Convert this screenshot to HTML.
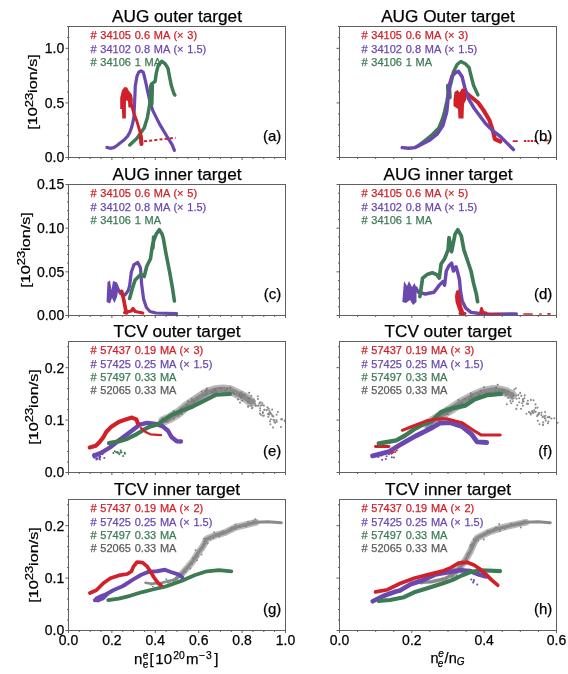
<!DOCTYPE html>
<html><head><meta charset="utf-8"><style>
html,body{margin:0;padding:0;background:#fff;}
svg{display:block;will-change:transform;}
text{font-family:"Liberation Sans",sans-serif;}
</style></head><body>
<svg width="568" height="674" viewBox="0 0 568 674">
<rect width="568" height="674" fill="#fff"/>
<polyline points="106.9,147.4 110.0,148.3 113.8,147.6 117.0,145.5 120.4,142.8 124.0,140.0 127.7,136.1 130.0,132.0 131.8,126.8 133.2,121.0 133.9,116.4 134.4,106.0 134.9,95.6 135.3,85.8 137.0,76.1 138.8,72.2 141.0,70.8 143.2,72.2 144.5,77.0 146.3,84.9 148.0,92.9 149.8,100.8 152.7,110.4 159.6,124.1 166.4,135.5 172.1,144.7 174.4,150.4" fill="none" stroke="#6a48b0" stroke-width="3.22" stroke-linecap="round" stroke-linejoin="round"/>
<polyline points="129.7,145.0 137.0,138.2 144.3,127.8 147.4,117.4 150.0,102.9 151.6,84.0 155.1,81.4 156.4,72.6 158.2,65.6 161.7,61.2 165.2,63.8 167.9,68.2 169.6,77.0 171.4,85.8 174.0,93.7 174.9,95.0" fill="none" stroke="#3d7a55" stroke-width="3.45" stroke-linecap="round" stroke-linejoin="round"/>
<polyline points="151.0,104.0 151.5,86.0" fill="none" stroke="#3d7a55" stroke-width="5.17" stroke-linecap="round" stroke-linejoin="round"/>
<polygon points="120.2,109.0 120.2,97.7 121.9,90.4 124.5,87.0 127.1,87.5 129.2,91.2 131.8,94.3 132.8,98.7 132.6,107.5 128.4,107.5 128.0,101.0 126.0,100.5 125.9,107.0 125.9,118.6 122.3,118.6 121.9,109.0" fill="#d0202a"/>
<polyline points="131.5,105.0 133.5,112.0 137.0,121.6 140.6,134.0 141.2,143.4" fill="none" stroke="#d0202a" stroke-width="2.88" stroke-linecap="round" stroke-linejoin="round"/>
<polyline points="140.8,136.0 141.5,144.0" fill="none" stroke="#d0202a" stroke-width="4.02" stroke-linecap="round" stroke-linejoin="round"/>
<polyline points="144,141.3 175.6,137.8" fill="none" stroke="#d0202a" stroke-width="2" stroke-dasharray="3 2.2"/>
<polyline points="417.8,146.1 423.7,141.6 431.2,135.7 438.6,128.3 442.3,119.4 444.5,111.9 446.8,101.5 449.0,89.7 451.2,82.3 453.4,71.9 457.1,64.5 460.9,61.5 465.3,63.7 469.0,67.4 471.2,76.3 473.5,85.2 477.9,94.9" fill="none" stroke="#3d7a55" stroke-width="3.45" stroke-linecap="round" stroke-linejoin="round"/>
<polyline points="449.2,97.0 448.5,86.0" fill="none" stroke="#3d7a55" stroke-width="5.17" stroke-linecap="round" stroke-linejoin="round"/>
<polyline points="463.1,91.0 468.7,95.0 478.0,102.5 483.6,110.4 489.2,119.7 492.9,130.9 494.8,139.0 500.4,141.5" fill="none" stroke="#d0202a" stroke-width="4.14" stroke-linecap="round" stroke-linejoin="round"/>
<polyline points="402.2,147.6 408.9,148.3 414.8,147.6 420.8,144.6 429.7,140.1 437.1,134.2 443.0,125.3 446.8,111.9 448.2,97.1 449.7,83.7 451.9,76.3 455.7,72.6 458.4,71.2 462.1,76.8 464.9,88.0 468.7,99.2 474.3,108.5 479.9,116.0 485.5,123.5 492.9,130.9 500.4,136.5 506.0,142.1 511.6,147.7 513.5,149.6" fill="none" stroke="#6a48b0" stroke-width="3.45" stroke-linecap="round" stroke-linejoin="round"/>
<polygon points="453.5,100.0 454.5,92.0 457.5,90.0 459.5,92.5 462.0,88.5 465.5,89.0 466.5,99.0 464.0,104.0 463.5,118.5 458.5,118.5 458.0,109.0 453.5,106.0" fill="#d0202a"/>
<polyline points="513.5,141.2 517.0,141.2" fill="none" stroke="#d0202a" stroke-width="1.84" stroke-linecap="round" stroke-linejoin="round"/>
<polyline points="524,141 536,141" fill="none" stroke="#d0202a" stroke-width="2" stroke-dasharray="2.2 1.2"/>
<polyline points="545.0,140.5 548.0,140.3" fill="none" stroke="#d0202a" stroke-width="1.84" stroke-linecap="round" stroke-linejoin="round"/>
<polygon points="106.5,302.0 107.5,282.0 110.0,280.5 111.5,290.0 113.0,281.0 116.0,282.0 118.5,289.0 117.0,297.0 114.5,303.0 112.0,298.0 110.0,303.5" fill="#6a48b0"/>
<polyline points="116.0,284.0 117.9,288.7 120.5,293.4 124.9,295.0 128.0,291.0 129.6,286.0 131.3,272.3 134.0,264.6 137.8,262.5 140.5,268.0 141.6,283.8 143.6,299.1 146.4,307.5 150.0,311.5 156.0,313.0 176.6,313.6" fill="none" stroke="#6a48b0" stroke-width="3.22" stroke-linecap="round" stroke-linejoin="round"/>
<polyline points="129.6,298.5 132.5,288.0 135.2,279.9 140.9,274.2 144.2,276.5 146.7,266.5 150.5,258.8 152.4,245.4 154.0,240.0 156.3,233.9 159.3,229.7 162.0,234.0 163.2,237.7 165.9,253.1 169.7,272.3 172.4,287.6 174.4,301.0" fill="none" stroke="#3d7a55" stroke-width="3.56" stroke-linecap="round" stroke-linejoin="round"/>
<polyline points="153.0,248.0 153.5,237.0" fill="none" stroke="#3d7a55" stroke-width="3.45" stroke-linecap="round" stroke-linejoin="round"/>
<polyline points="121.7,291.4 123.6,299.1 125.3,308.0 126.5,313.0" fill="none" stroke="#d0202a" stroke-width="3.68" stroke-linecap="round" stroke-linejoin="round"/>
<polyline points="124.5,312.5 131.3,311.0 133.0,308.5 135.2,311.5 142.8,313.0" fill="none" stroke="#d0202a" stroke-width="3.22" stroke-linecap="round" stroke-linejoin="round"/>
<polygon points="402.3,302.0 404.0,281.0 407.0,286.0 409.0,281.0 412.0,287.0 414.5,283.0 416.5,288.0 416.5,302.0 413.0,305.0 410.0,300.0 406.0,303.0" fill="#6a48b0"/>
<polyline points="416.0,288.0 418.2,292.2 425.2,294.0 434.0,292.2 439.3,285.1 442.8,281.6 444.6,285.1 446.3,271.0 449.0,265.8 451.6,263.1 453.4,271.0 456.0,266.7 457.8,272.8 459.5,279.9 460.4,290.4 462.2,301.0 465.7,308.0 471.0,312.4 478.0,313.3 490.0,314.2 516.3,314.0" fill="none" stroke="#6a48b0" stroke-width="3.45" stroke-linecap="round" stroke-linejoin="round"/>
<polyline points="419.9,296.6 422.6,278.1 427.0,274.6 432.3,272.8 436.7,274.6 439.3,278.1 441.1,264.0 444.6,258.7 448.1,249.9 449.0,237.6 451.6,251.7 455.1,234.1 457.8,229.7 461.3,235.8 463.9,249.9 467.5,260.5 471.0,271.0 473.6,283.4 476.3,293.9 477.6,301.7" fill="none" stroke="#3d7a55" stroke-width="3.68" stroke-linecap="round" stroke-linejoin="round"/>
<polygon points="455.0,296.0 456.0,291.0 459.0,289.5 460.5,297.0 462.0,306.0 464.5,313.0 460.0,314.5 457.5,308.0 455.5,302.0" fill="#d0202a"/>
<polyline points="460.0,313.5 465.0,313.5" fill="none" stroke="#d0202a" stroke-width="2.88" stroke-linecap="round" stroke-linejoin="round"/>
<polyline points="480.5,313.0 481.5,308.5 483.0,312.5 486.0,313.0" fill="none" stroke="#d0202a" stroke-width="2.88" stroke-linecap="round" stroke-linejoin="round"/>
<polyline points="488.0,314.0 500.0,313.8" fill="none" stroke="#d0202a" stroke-width="1.72" stroke-linecap="round" stroke-linejoin="round"/>
<polyline points="524.0,314.0 532.0,314.0" fill="none" stroke="#d0202a" stroke-width="1.72" stroke-linecap="round" stroke-linejoin="round"/>
<polyline points="540.0,314.0 541.0,314.0" fill="none" stroke="#d0202a" stroke-width="1.72" stroke-linecap="round" stroke-linejoin="round"/>
<polyline points="548.0,313.8 550.0,313.8" fill="none" stroke="#d0202a" stroke-width="1.72" stroke-linecap="round" stroke-linejoin="round"/>
<polyline points="163.0,421.0 170.0,418.0 178.2,413.0 186.6,406.0 195.0,400.4 200.0,397.0 207.6,392.5 215.2,390.2 222.7,389.4 230.3,390.2 237.9,393.9 245.5,397.7 251.0,402.0" fill="none" stroke="#b8b8b8" stroke-width="9.77" stroke-linecap="round" stroke-linejoin="round"/>
<polyline points="163.0,421.0 170.0,418.0 178.2,413.0 186.6,406.0 195.0,400.4 200.0,397.0 207.6,392.5 215.2,390.2 222.7,389.4 230.3,390.2 237.9,393.9 245.5,397.7 251.0,402.0" fill="none" stroke="#8a8a8a" stroke-width="5.29" stroke-linecap="round" stroke-linejoin="round"/>
<g fill="#7a7a7a"><circle cx="181.4" cy="408.2" r="1.0"/><circle cx="214.1" cy="389.8" r="1.0"/><circle cx="165.0" cy="419.2" r="1.0"/><circle cx="185.3" cy="408.9" r="1.0"/><circle cx="234.3" cy="393.9" r="1.0"/><circle cx="173.7" cy="411.1" r="1.0"/><circle cx="206.8" cy="389.9" r="1.0"/><circle cx="169.0" cy="415.8" r="1.0"/><circle cx="192.2" cy="405.7" r="1.0"/><circle cx="201.8" cy="391.4" r="1.0"/><circle cx="227.4" cy="388.8" r="1.0"/><circle cx="229.5" cy="393.5" r="1.0"/><circle cx="241.8" cy="396.0" r="1.0"/><circle cx="183.8" cy="409.6" r="1.0"/><circle cx="216.2" cy="392.3" r="1.0"/><circle cx="193.8" cy="402.3" r="1.0"/><circle cx="215.3" cy="389.2" r="1.0"/><circle cx="249.2" cy="392.8" r="1.0"/><circle cx="223.4" cy="392.9" r="1.0"/><circle cx="250.4" cy="398.4" r="1.0"/><circle cx="226.5" cy="393.4" r="1.0"/><circle cx="211.6" cy="392.0" r="1.0"/><circle cx="239.5" cy="394.2" r="1.0"/><circle cx="232.9" cy="392.5" r="1.0"/><circle cx="188.2" cy="401.3" r="1.0"/><circle cx="166.6" cy="418.9" r="1.0"/><circle cx="224.0" cy="393.4" r="1.0"/><circle cx="242.3" cy="400.6" r="1.0"/><circle cx="191.4" cy="405.7" r="1.0"/><circle cx="166.6" cy="421.7" r="1.0"/><circle cx="215.6" cy="390.7" r="1.0"/><circle cx="237.9" cy="399.5" r="1.0"/><circle cx="240.9" cy="397.7" r="1.0"/><circle cx="205.1" cy="390.9" r="1.0"/><circle cx="206.9" cy="388.4" r="1.0"/><circle cx="202.7" cy="395.0" r="1.0"/><circle cx="181.5" cy="414.0" r="1.0"/><circle cx="206.5" cy="392.9" r="1.0"/><circle cx="197.4" cy="398.3" r="1.0"/><circle cx="215.3" cy="389.6" r="1.0"/><circle cx="214.0" cy="390.6" r="1.0"/><circle cx="191.7" cy="398.9" r="1.0"/><circle cx="167.8" cy="421.2" r="1.0"/><circle cx="248.1" cy="401.9" r="1.0"/><circle cx="212.8" cy="392.4" r="1.0"/><circle cx="187.4" cy="406.2" r="1.0"/><circle cx="185.7" cy="407.3" r="1.0"/><circle cx="162.5" cy="418.6" r="1.0"/><circle cx="189.6" cy="407.9" r="1.0"/><circle cx="184.2" cy="410.7" r="1.0"/><circle cx="225.4" cy="390.6" r="1.0"/><circle cx="192.1" cy="401.2" r="1.0"/><circle cx="239.7" cy="395.9" r="1.0"/><circle cx="220.9" cy="388.3" r="1.0"/><circle cx="184.1" cy="411.3" r="1.0"/><circle cx="181.0" cy="408.2" r="1.0"/><circle cx="178.5" cy="415.8" r="1.0"/><circle cx="219.1" cy="388.1" r="1.0"/><circle cx="173.7" cy="418.6" r="1.0"/><circle cx="184.7" cy="408.3" r="1.0"/><circle cx="194.4" cy="400.7" r="1.0"/><circle cx="181.6" cy="414.0" r="1.0"/><circle cx="243.1" cy="395.3" r="1.0"/><circle cx="248.3" cy="398.3" r="1.0"/><circle cx="230.3" cy="387.5" r="1.0"/><circle cx="206.2" cy="394.8" r="1.0"/><circle cx="184.9" cy="410.5" r="1.0"/><circle cx="187.3" cy="405.1" r="1.0"/><circle cx="241.5" cy="392.2" r="1.0"/><circle cx="244.6" cy="394.6" r="1.0"/></g>
<g fill="#8c8c8c"><circle cx="267.5" cy="407.4" r="1.05"/><circle cx="277.9" cy="412.1" r="1.05"/><circle cx="240.0" cy="402.6" r="1.05"/><circle cx="270.2" cy="413.6" r="1.05"/><circle cx="262.8" cy="415.8" r="1.05"/><circle cx="268.8" cy="413.4" r="1.05"/><circle cx="262.3" cy="403.4" r="1.05"/><circle cx="253.6" cy="401.8" r="1.05"/><circle cx="267.8" cy="414.2" r="1.05"/><circle cx="276.8" cy="421.7" r="1.05"/><circle cx="281.9" cy="419.4" r="1.05"/><circle cx="273.5" cy="419.7" r="1.05"/><circle cx="259.8" cy="402.8" r="1.05"/><circle cx="281.7" cy="419.3" r="1.05"/><circle cx="260.2" cy="410.5" r="1.05"/><circle cx="248.4" cy="406.4" r="1.05"/><circle cx="246.6" cy="397.0" r="1.05"/><circle cx="259.4" cy="403.5" r="1.05"/><circle cx="251.9" cy="408.3" r="1.05"/><circle cx="250.6" cy="401.2" r="1.05"/><circle cx="272.5" cy="416.1" r="1.05"/><circle cx="270.0" cy="421.2" r="1.05"/><circle cx="250.6" cy="400.9" r="1.05"/><circle cx="281.0" cy="427.0" r="1.05"/><circle cx="281.3" cy="419.2" r="1.05"/><circle cx="252.5" cy="407.5" r="1.05"/><circle cx="251.3" cy="395.8" r="1.05"/><circle cx="284.7" cy="421.0" r="1.05"/><circle cx="248.0" cy="406.6" r="1.05"/><circle cx="273.0" cy="427.5" r="1.05"/><circle cx="263.9" cy="415.6" r="1.05"/><circle cx="255.4" cy="405.2" r="1.05"/><circle cx="272.3" cy="415.4" r="1.05"/><circle cx="254.2" cy="400.8" r="1.05"/><circle cx="260.9" cy="414.8" r="1.05"/><circle cx="270.8" cy="419.3" r="1.05"/><circle cx="250.6" cy="400.8" r="1.05"/><circle cx="264.5" cy="409.8" r="1.05"/><circle cx="276.6" cy="414.7" r="1.05"/><circle cx="276.5" cy="420.0" r="1.05"/><circle cx="254.4" cy="400.9" r="1.05"/><circle cx="269.5" cy="410.7" r="1.05"/><circle cx="275.3" cy="422.7" r="1.05"/><circle cx="268.3" cy="416.7" r="1.05"/><circle cx="262.7" cy="412.6" r="1.05"/><circle cx="285.1" cy="420.4" r="1.05"/><circle cx="262.8" cy="413.0" r="1.05"/><circle cx="258.0" cy="399.0" r="1.05"/><circle cx="260.6" cy="402.3" r="1.05"/><circle cx="266.9" cy="410.1" r="1.05"/><circle cx="258.4" cy="405.8" r="1.05"/><circle cx="263.9" cy="405.6" r="1.05"/><circle cx="262.3" cy="405.2" r="1.05"/><circle cx="271.2" cy="413.7" r="1.05"/><circle cx="253.8" cy="402.3" r="1.05"/><circle cx="270.2" cy="412.6" r="1.05"/><circle cx="254.9" cy="403.5" r="1.05"/><circle cx="270.4" cy="424.2" r="1.05"/><circle cx="272.2" cy="409.5" r="1.05"/><circle cx="274.3" cy="420.5" r="1.05"/><circle cx="257.8" cy="396.3" r="1.05"/><circle cx="260.7" cy="405.6" r="1.05"/><circle cx="274.5" cy="422.1" r="1.05"/><circle cx="264.4" cy="409.9" r="1.05"/><circle cx="268.7" cy="408.8" r="1.05"/><circle cx="273.3" cy="416.5" r="1.05"/><circle cx="260.1" cy="408.3" r="1.05"/><circle cx="269.2" cy="414.6" r="1.05"/><circle cx="262.9" cy="412.3" r="1.05"/><circle cx="251.2" cy="405.4" r="1.05"/><circle cx="258.2" cy="405.5" r="1.05"/><circle cx="255.9" cy="405.9" r="1.05"/><circle cx="255.5" cy="405.6" r="1.05"/><circle cx="259.8" cy="413.6" r="1.05"/><circle cx="253.4" cy="399.5" r="1.05"/></g>
<polyline points="94.1,455.5 101.1,452.8 109.9,447.5 118.7,440.5 125.8,435.2 132.8,429.9 139.9,424.6 146.9,422.9 155.7,423.8 162.7,426.4 168.0,430.8 171.5,437.0 176.8,441.3 181.0,441.5" fill="none" stroke="#6a48b0" stroke-width="4.37" stroke-linecap="round" stroke-linejoin="round"/>
<g fill="#6a48b0"><circle cx="99.9" cy="459.4" r="1"/><circle cx="93.9" cy="457.4" r="1"/><circle cx="95.0" cy="457.8" r="1"/><circle cx="100.1" cy="457.1" r="1"/><circle cx="99.7" cy="455.8" r="1"/><circle cx="93.8" cy="453.8" r="1"/><circle cx="96.4" cy="459.6" r="1"/><circle cx="96.5" cy="456.6" r="1"/><circle cx="97.7" cy="458.7" r="1"/><circle cx="104.3" cy="457.9" r="1"/><circle cx="99.6" cy="457.9" r="1"/><circle cx="96.9" cy="458.3" r="1"/><circle cx="100.2" cy="456.7" r="1"/><circle cx="99.2" cy="456.7" r="1"/><circle cx="102.5" cy="454.2" r="1"/></g>
<polyline points="109.0,443.1 118.7,441.4 127.5,438.7 136.3,434.3 143.4,429.9 150.4,426.4 157.5,424.6 164.5,419.4 171.5,415.0 180.0,411.4 192.3,406.7 206.3,399.6 216.2,394.7 230.0,394.0" fill="none" stroke="#3d7a55" stroke-width="4.14" stroke-linecap="round" stroke-linejoin="round"/>
<g fill="#3d7a55"><circle cx="117.4" cy="452.1" r="1"/><circle cx="124.7" cy="452.7" r="1"/><circle cx="124.9" cy="453.8" r="1"/><circle cx="121.5" cy="452.3" r="1"/><circle cx="118.0" cy="453.0" r="1"/><circle cx="114.8" cy="451.3" r="1"/><circle cx="120.7" cy="450.4" r="1"/><circle cx="119.3" cy="454.3" r="1"/><circle cx="113.4" cy="452.9" r="1"/><circle cx="120.3" cy="452.5" r="1"/><circle cx="116.3" cy="452.2" r="1"/><circle cx="123.1" cy="456.0" r="1"/></g>
<polyline points="89.7,447.5 95.8,445.8 99.4,442.3 102.9,437.9 106.4,431.7 111.7,426.4 118.7,422.0 125.8,419.4 131.9,417.6 136.3,419.4 138.1,423.8" fill="none" stroke="#d0202a" stroke-width="4.14" stroke-linecap="round" stroke-linejoin="round"/>
<polyline points="141.0,428.0 145.1,431.7 150.4,434.3 161.0,435.2" fill="none" stroke="#d0202a" stroke-width="2.3" stroke-linecap="round" stroke-linejoin="round"/>
<polyline points="427.0,424.0 430.0,422.7 441.0,415.5 452.2,408.3 463.0,401.5 474.4,395.5 483.0,392.0 492.1,390.0 500.0,390.5 505.4,391.7 512.0,395.0" fill="none" stroke="#b8b8b8" stroke-width="9.77" stroke-linecap="round" stroke-linejoin="round"/>
<polyline points="427.0,424.0 430.0,422.7 441.0,415.5 452.2,408.3 463.0,401.5 474.4,395.5 483.0,392.0 492.1,390.0 500.0,390.5 505.4,391.7 512.0,395.0" fill="none" stroke="#8a8a8a" stroke-width="5.29" stroke-linecap="round" stroke-linejoin="round"/>
<g fill="#7a7a7a"><circle cx="446.6" cy="408.3" r="1.0"/><circle cx="499.2" cy="391.7" r="1.0"/><circle cx="439.4" cy="420.1" r="1.0"/><circle cx="436.2" cy="417.5" r="1.0"/><circle cx="447.2" cy="410.9" r="1.0"/><circle cx="478.1" cy="394.8" r="1.0"/><circle cx="441.4" cy="414.2" r="1.0"/><circle cx="496.1" cy="387.2" r="1.0"/><circle cx="508.1" cy="391.4" r="1.0"/><circle cx="495.3" cy="390.7" r="1.0"/><circle cx="471.0" cy="397.2" r="1.0"/><circle cx="461.1" cy="403.3" r="1.0"/><circle cx="497.6" cy="384.7" r="1.0"/><circle cx="480.7" cy="390.7" r="1.0"/><circle cx="437.0" cy="415.5" r="1.0"/><circle cx="442.0" cy="417.6" r="1.0"/><circle cx="444.8" cy="412.1" r="1.0"/><circle cx="460.4" cy="405.9" r="1.0"/><circle cx="446.1" cy="413.6" r="1.0"/><circle cx="459.0" cy="406.9" r="1.0"/><circle cx="505.6" cy="395.1" r="1.0"/><circle cx="507.4" cy="392.5" r="1.0"/><circle cx="496.0" cy="387.7" r="1.0"/><circle cx="436.5" cy="418.3" r="1.0"/><circle cx="502.5" cy="389.7" r="1.0"/><circle cx="496.8" cy="392.7" r="1.0"/><circle cx="440.8" cy="416.9" r="1.0"/><circle cx="487.4" cy="393.9" r="1.0"/><circle cx="472.5" cy="394.6" r="1.0"/><circle cx="486.3" cy="392.5" r="1.0"/><circle cx="439.9" cy="415.1" r="1.0"/><circle cx="447.8" cy="414.0" r="1.0"/><circle cx="471.5" cy="396.6" r="1.0"/><circle cx="461.8" cy="402.7" r="1.0"/><circle cx="428.3" cy="423.9" r="1.0"/><circle cx="450.9" cy="411.6" r="1.0"/><circle cx="431.5" cy="420.8" r="1.0"/><circle cx="499.0" cy="390.4" r="1.0"/><circle cx="469.4" cy="398.9" r="1.0"/><circle cx="464.4" cy="398.9" r="1.0"/><circle cx="425.4" cy="422.8" r="1.0"/><circle cx="488.1" cy="393.9" r="1.0"/><circle cx="498.5" cy="393.1" r="1.0"/><circle cx="455.6" cy="407.8" r="1.0"/><circle cx="443.1" cy="414.4" r="1.0"/><circle cx="461.8" cy="405.8" r="1.0"/><circle cx="479.2" cy="395.0" r="1.0"/><circle cx="439.9" cy="414.9" r="1.0"/><circle cx="453.2" cy="409.4" r="1.0"/><circle cx="438.8" cy="416.6" r="1.0"/><circle cx="496.5" cy="391.9" r="1.0"/><circle cx="459.2" cy="404.7" r="1.0"/><circle cx="452.2" cy="407.4" r="1.0"/><circle cx="513.5" cy="395.2" r="1.0"/><circle cx="438.1" cy="416.1" r="1.0"/><circle cx="501.7" cy="390.8" r="1.0"/><circle cx="427.5" cy="427.8" r="1.0"/><circle cx="437.2" cy="417.0" r="1.0"/><circle cx="455.2" cy="405.4" r="1.0"/><circle cx="484.0" cy="387.2" r="1.0"/><circle cx="470.9" cy="397.3" r="1.0"/><circle cx="470.7" cy="393.3" r="1.0"/><circle cx="503.9" cy="391.9" r="1.0"/><circle cx="471.1" cy="395.4" r="1.0"/><circle cx="452.7" cy="408.6" r="1.0"/><circle cx="434.6" cy="420.1" r="1.0"/><circle cx="489.6" cy="393.1" r="1.0"/><circle cx="503.9" cy="390.5" r="1.0"/><circle cx="458.4" cy="400.1" r="1.0"/><circle cx="485.3" cy="394.6" r="1.0"/></g>
<g fill="#8c8c8c"><circle cx="519.3" cy="402.2" r="1.05"/><circle cx="522.9" cy="405.7" r="1.05"/><circle cx="510.7" cy="397.3" r="1.05"/><circle cx="544.6" cy="418.0" r="1.05"/><circle cx="514.3" cy="389.6" r="1.05"/><circle cx="520.2" cy="392.9" r="1.05"/><circle cx="534.3" cy="410.2" r="1.05"/><circle cx="507.3" cy="393.1" r="1.05"/><circle cx="516.6" cy="398.8" r="1.05"/><circle cx="521.0" cy="408.7" r="1.05"/><circle cx="527.5" cy="404.0" r="1.05"/><circle cx="533.3" cy="412.9" r="1.05"/><circle cx="557.6" cy="422.7" r="1.05"/><circle cx="537.1" cy="416.1" r="1.05"/><circle cx="527.0" cy="403.5" r="1.05"/><circle cx="527.8" cy="400.7" r="1.05"/><circle cx="548.4" cy="421.5" r="1.05"/><circle cx="521.3" cy="395.9" r="1.05"/><circle cx="548.0" cy="423.3" r="1.05"/><circle cx="535.6" cy="407.9" r="1.05"/><circle cx="506.8" cy="404.2" r="1.05"/><circle cx="542.6" cy="417.1" r="1.05"/><circle cx="519.2" cy="398.2" r="1.05"/><circle cx="512.0" cy="395.9" r="1.05"/><circle cx="516.4" cy="395.7" r="1.05"/><circle cx="538.7" cy="414.3" r="1.05"/><circle cx="516.3" cy="408.9" r="1.05"/><circle cx="539.5" cy="424.3" r="1.05"/><circle cx="511.3" cy="403.2" r="1.05"/><circle cx="545.3" cy="418.5" r="1.05"/><circle cx="517.3" cy="405.3" r="1.05"/><circle cx="522.1" cy="403.3" r="1.05"/><circle cx="509.5" cy="393.8" r="1.05"/><circle cx="530.8" cy="413.3" r="1.05"/><circle cx="543.2" cy="422.2" r="1.05"/><circle cx="545.7" cy="420.6" r="1.05"/><circle cx="547.7" cy="417.2" r="1.05"/><circle cx="515.9" cy="388.3" r="1.05"/><circle cx="524.7" cy="395.4" r="1.05"/><circle cx="532.3" cy="411.1" r="1.05"/><circle cx="512.6" cy="393.3" r="1.05"/><circle cx="537.8" cy="420.8" r="1.05"/><circle cx="533.0" cy="412.4" r="1.05"/><circle cx="541.4" cy="415.1" r="1.05"/><circle cx="535.5" cy="404.4" r="1.05"/><circle cx="522.9" cy="399.0" r="1.05"/><circle cx="508.2" cy="397.7" r="1.05"/><circle cx="512.4" cy="398.0" r="1.05"/><circle cx="535.2" cy="412.0" r="1.05"/><circle cx="551.5" cy="418.6" r="1.05"/><circle cx="535.7" cy="411.8" r="1.05"/><circle cx="518.3" cy="394.9" r="1.05"/><circle cx="538.8" cy="413.1" r="1.05"/><circle cx="528.9" cy="412.0" r="1.05"/><circle cx="523.7" cy="401.5" r="1.05"/><circle cx="530.9" cy="399.9" r="1.05"/><circle cx="537.5" cy="407.6" r="1.05"/><circle cx="543.0" cy="425.0" r="1.05"/><circle cx="549.0" cy="416.7" r="1.05"/><circle cx="545.1" cy="412.1" r="1.05"/><circle cx="530.9" cy="414.5" r="1.05"/><circle cx="539.2" cy="413.2" r="1.05"/><circle cx="554.4" cy="418.3" r="1.05"/><circle cx="524.5" cy="398.3" r="1.05"/><circle cx="528.1" cy="403.7" r="1.05"/><circle cx="545.4" cy="415.8" r="1.05"/><circle cx="529.7" cy="412.6" r="1.05"/><circle cx="522.8" cy="401.0" r="1.05"/><circle cx="522.9" cy="399.8" r="1.05"/><circle cx="537.8" cy="414.9" r="1.05"/><circle cx="544.0" cy="416.2" r="1.05"/><circle cx="543.0" cy="424.6" r="1.05"/><circle cx="510.4" cy="401.1" r="1.05"/><circle cx="549.5" cy="417.4" r="1.05"/><circle cx="532.2" cy="411.6" r="1.05"/><circle cx="533.6" cy="400.3" r="1.05"/><circle cx="541.5" cy="412.6" r="1.05"/><circle cx="512.6" cy="398.3" r="1.05"/><circle cx="512.9" cy="401.3" r="1.05"/><circle cx="526.4" cy="413.8" r="1.05"/></g>
<polyline points="372.6,455.8 380.5,453.8 389.3,451.5 398.1,446.0 406.9,440.8 415.7,436.0 424.5,431.7 433.3,427.0 440.0,423.2 450.3,422.6 461.8,426.4 471.4,434.0 477.1,441.8 486.7,442.5" fill="none" stroke="#6a48b0" stroke-width="4.83" stroke-linecap="round" stroke-linejoin="round"/>
<g fill="#6a48b0"><circle cx="385.5" cy="452.1" r="1"/><circle cx="380.2" cy="454.3" r="1"/><circle cx="386.6" cy="456.3" r="1"/><circle cx="381.5" cy="455.5" r="1"/><circle cx="382.1" cy="459.7" r="1"/><circle cx="385.8" cy="458.9" r="1"/><circle cx="377.5" cy="454.4" r="1"/><circle cx="376.9" cy="455.3" r="1"/><circle cx="391.8" cy="457.3" r="1"/><circle cx="389.0" cy="454.2" r="1"/><circle cx="378.3" cy="457.0" r="1"/><circle cx="394.0" cy="457.6" r="1"/></g>
<polyline points="375.5,446.4 388.9,446.4" fill="none" stroke="#d0202a" stroke-width="2.99" stroke-linecap="round" stroke-linejoin="round"/>
<g fill="#d0202a"><circle cx="397.9" cy="447.2" r="1"/><circle cx="391.3" cy="453.7" r="1"/><circle cx="395.2" cy="452.0" r="1"/><circle cx="393.4" cy="452.2" r="1"/><circle cx="392.2" cy="453.0" r="1"/><circle cx="396.8" cy="450.4" r="1"/></g>
<polyline points="378.7,443.5 387.5,442.0 396.3,440.3 405.1,435.5 413.9,429.4 422.7,424.5 431.5,421.3 441.1,412.0 452.2,408.3 465.5,405.5 474.4,399.4 487.7,395.0 501.0,393.9" fill="none" stroke="#3d7a55" stroke-width="4.37" stroke-linecap="round" stroke-linejoin="round"/>
<polyline points="402.3,430.3 412.0,426.5 427.3,420.7 437.0,419.0 446.4,418.7 461.8,422.6 473.3,430.3 481.0,434.9 500.2,434.9" fill="none" stroke="#d0202a" stroke-width="2.99" stroke-linecap="round" stroke-linejoin="round"/>
<polyline points="182.3,573.3 188.0,567.0 193.0,561.0 198.0,553.0 202.7,546.8 206.8,539.0 214.9,535.5 225.1,532.5 235.3,527.4 243.5,525.3 255.8,522.3" fill="none" stroke="#bababa" stroke-width="6.9" stroke-linecap="round" stroke-linejoin="round"/>
<polyline points="145.5,582.7 151.7,583.8 162.3,582.7 167.5,581.2 174.9,579.6" fill="none" stroke="#8a8a8a" stroke-width="2.53" stroke-linecap="round" stroke-linejoin="round"/>
<polyline points="174.9,579.6 182.3,573.3 188.0,567.0 193.0,561.0 198.0,553.0 202.7,546.8 206.8,539.0 214.9,535.5 225.1,532.5 235.3,527.4 243.5,525.3 255.8,522.3" fill="none" stroke="#8a8a8a" stroke-width="3.45" stroke-linecap="round" stroke-linejoin="round"/>
<g fill="#858585"><circle cx="166.4" cy="579.2" r="0.9"/><circle cx="198.0" cy="556.8" r="0.9"/><circle cx="229.3" cy="529.3" r="0.9"/><circle cx="177.7" cy="578.5" r="0.9"/><circle cx="207.7" cy="543.4" r="0.9"/><circle cx="175.8" cy="579.3" r="0.9"/><circle cx="255.3" cy="519.1" r="0.9"/><circle cx="208.7" cy="539.1" r="0.9"/><circle cx="201.7" cy="554.6" r="0.9"/><circle cx="190.4" cy="568.5" r="0.9"/><circle cx="163.7" cy="582.0" r="0.9"/><circle cx="202.0" cy="547.6" r="0.9"/><circle cx="173.2" cy="581.4" r="0.9"/><circle cx="176.3" cy="577.5" r="0.9"/><circle cx="253.8" cy="521.6" r="0.9"/><circle cx="223.5" cy="530.9" r="0.9"/><circle cx="158.8" cy="583.2" r="0.9"/><circle cx="174.9" cy="578.7" r="0.9"/><circle cx="191.1" cy="563.1" r="0.9"/><circle cx="191.8" cy="564.2" r="0.9"/><circle cx="151.2" cy="584.7" r="0.9"/><circle cx="253.0" cy="522.6" r="0.9"/><circle cx="203.0" cy="545.2" r="0.9"/><circle cx="204.5" cy="538.6" r="0.9"/><circle cx="170.0" cy="582.1" r="0.9"/><circle cx="245.1" cy="526.4" r="0.9"/><circle cx="183.7" cy="572.6" r="0.9"/><circle cx="232.1" cy="527.6" r="0.9"/><circle cx="214.1" cy="532.2" r="0.9"/><circle cx="246.4" cy="526.3" r="0.9"/><circle cx="248.0" cy="521.7" r="0.9"/><circle cx="197.4" cy="553.6" r="0.9"/><circle cx="240.0" cy="526.8" r="0.9"/><circle cx="231.1" cy="527.8" r="0.9"/><circle cx="235.8" cy="528.1" r="0.9"/><circle cx="180.8" cy="574.3" r="0.9"/><circle cx="152.9" cy="586.4" r="0.9"/><circle cx="253.6" cy="521.0" r="0.9"/><circle cx="179.7" cy="576.6" r="0.9"/><circle cx="222.5" cy="533.8" r="0.9"/><circle cx="235.7" cy="524.5" r="0.9"/><circle cx="204.3" cy="541.2" r="0.9"/><circle cx="235.5" cy="529.0" r="0.9"/><circle cx="180.3" cy="574.8" r="0.9"/><circle cx="216.2" cy="535.1" r="0.9"/><circle cx="203.7" cy="538.7" r="0.9"/><circle cx="205.0" cy="543.9" r="0.9"/><circle cx="251.1" cy="523.1" r="0.9"/><circle cx="158.4" cy="583.3" r="0.9"/><circle cx="197.1" cy="560.2" r="0.9"/><circle cx="213.5" cy="538.1" r="0.9"/><circle cx="183.7" cy="570.5" r="0.9"/><circle cx="168.0" cy="582.7" r="0.9"/><circle cx="218.6" cy="534.1" r="0.9"/><circle cx="221.1" cy="532.3" r="0.9"/><circle cx="230.9" cy="530.6" r="0.9"/><circle cx="154.0" cy="582.6" r="0.9"/><circle cx="219.2" cy="536.7" r="0.9"/><circle cx="185.4" cy="572.0" r="0.9"/><circle cx="184.6" cy="571.2" r="0.9"/><circle cx="195.5" cy="550.2" r="0.9"/><circle cx="157.0" cy="582.0" r="0.9"/><circle cx="223.5" cy="533.1" r="0.9"/><circle cx="215.7" cy="534.4" r="0.9"/><circle cx="155.7" cy="579.5" r="0.9"/><circle cx="185.5" cy="572.0" r="0.9"/><circle cx="160.3" cy="583.2" r="0.9"/><circle cx="232.1" cy="527.3" r="0.9"/><circle cx="210.2" cy="538.8" r="0.9"/><circle cx="193.2" cy="558.0" r="0.9"/></g>
<polyline points="255.8,522.3 268.0,521.8 281.3,522.7" fill="none" stroke="#8a8a8a" stroke-width="2.99" stroke-linecap="round" stroke-linejoin="round"/>
<polyline points="94.8,600.2 103.2,596.0 113.2,590.2 123.0,586.0 132.9,579.6 141.3,574.7 148.4,571.9 156.8,571.2 165.0,569.8 170.9,572.0 178.2,574.3 182.3,577.4" fill="none" stroke="#6a48b0" stroke-width="3.91" stroke-linecap="round" stroke-linejoin="round"/>
<polygon points="93.5,601.5 95.0,597.0 101.0,594.0 107.5,592.0 109.0,595.0 104.0,600.0 98.0,602.5" fill="#6a48b0"/>
<polyline points="108.2,600.1 118.8,598.7 130.1,595.8 141.3,592.3 152.6,589.5 165.0,586.7 183.5,580.1 194.5,575.3 206.8,571.3 219.0,570.2 231.3,571.3" fill="none" stroke="#3d7a55" stroke-width="3.79" stroke-linecap="round" stroke-linejoin="round"/>
<polyline points="89.9,593.0 96.3,590.2 103.3,583.2 110.4,578.2 118.8,575.4 127.3,574.0 131.5,571.2 133.6,566.3 137.1,562.0 142.7,562.7 147.0,566.3 149.8,570.5 154.0,577.5 158.2,583.2 161.0,585.3" fill="none" stroke="#d0202a" stroke-width="3.68" stroke-linecap="round" stroke-linejoin="round"/>
<polyline points="452.8,574.6 459.9,567.6 465.1,560.6 470.0,552.0 474.0,543.0 477.0,538.0 480.8,536.1 489.3,531.9 499.2,528.4 510.4,525.6 520.0,523.5 525.8,522.3" fill="none" stroke="#bababa" stroke-width="6.9" stroke-linecap="round" stroke-linejoin="round"/>
<polyline points="415.8,582.6 431.7,581.7 444.0,579.0 452.8,574.6 459.9,567.6 465.1,560.6 470.0,552.0 474.0,543.0 477.0,538.0 480.8,536.1 489.3,531.9 499.2,528.4 510.4,525.6 520.0,523.5 525.8,522.3" fill="none" stroke="#8a8a8a" stroke-width="3.45" stroke-linecap="round" stroke-linejoin="round"/>
<g fill="#858585"><circle cx="519.1" cy="523.3" r="0.9"/><circle cx="425.6" cy="581.0" r="0.9"/><circle cx="472.4" cy="549.0" r="0.9"/><circle cx="466.7" cy="560.1" r="0.9"/><circle cx="421.3" cy="583.7" r="0.9"/><circle cx="462.2" cy="560.8" r="0.9"/><circle cx="462.4" cy="568.7" r="0.9"/><circle cx="473.9" cy="539.2" r="0.9"/><circle cx="520.2" cy="525.1" r="0.9"/><circle cx="458.5" cy="565.7" r="0.9"/><circle cx="457.1" cy="572.8" r="0.9"/><circle cx="487.8" cy="531.0" r="0.9"/><circle cx="480.6" cy="537.3" r="0.9"/><circle cx="456.8" cy="570.1" r="0.9"/><circle cx="431.5" cy="582.0" r="0.9"/><circle cx="448.9" cy="573.9" r="0.9"/><circle cx="456.2" cy="571.3" r="0.9"/><circle cx="454.9" cy="570.8" r="0.9"/><circle cx="451.7" cy="578.0" r="0.9"/><circle cx="488.5" cy="531.5" r="0.9"/><circle cx="474.4" cy="545.3" r="0.9"/><circle cx="520.8" cy="527.6" r="0.9"/><circle cx="423.0" cy="582.4" r="0.9"/><circle cx="499.2" cy="524.0" r="0.9"/><circle cx="502.2" cy="527.5" r="0.9"/><circle cx="524.2" cy="521.1" r="0.9"/><circle cx="521.7" cy="523.7" r="0.9"/><circle cx="424.9" cy="582.2" r="0.9"/><circle cx="518.1" cy="523.8" r="0.9"/><circle cx="428.7" cy="581.6" r="0.9"/><circle cx="472.9" cy="545.4" r="0.9"/><circle cx="466.2" cy="560.0" r="0.9"/><circle cx="460.5" cy="567.4" r="0.9"/><circle cx="511.4" cy="523.7" r="0.9"/><circle cx="487.4" cy="531.4" r="0.9"/><circle cx="446.6" cy="579.0" r="0.9"/><circle cx="494.2" cy="528.8" r="0.9"/><circle cx="504.9" cy="528.8" r="0.9"/><circle cx="454.4" cy="569.1" r="0.9"/><circle cx="448.9" cy="576.7" r="0.9"/><circle cx="472.3" cy="544.0" r="0.9"/><circle cx="471.6" cy="544.7" r="0.9"/><circle cx="490.9" cy="531.9" r="0.9"/><circle cx="499.8" cy="531.4" r="0.9"/><circle cx="442.4" cy="578.4" r="0.9"/><circle cx="466.1" cy="558.1" r="0.9"/><circle cx="484.6" cy="533.3" r="0.9"/><circle cx="470.3" cy="546.4" r="0.9"/><circle cx="454.5" cy="573.1" r="0.9"/><circle cx="510.9" cy="524.4" r="0.9"/><circle cx="495.7" cy="527.3" r="0.9"/><circle cx="452.7" cy="575.4" r="0.9"/><circle cx="455.8" cy="572.7" r="0.9"/><circle cx="459.5" cy="566.1" r="0.9"/><circle cx="467.4" cy="554.1" r="0.9"/><circle cx="452.8" cy="575.7" r="0.9"/><circle cx="451.3" cy="574.4" r="0.9"/><circle cx="429.8" cy="582.0" r="0.9"/><circle cx="470.7" cy="544.9" r="0.9"/><circle cx="450.3" cy="575.2" r="0.9"/><circle cx="523.2" cy="522.4" r="0.9"/><circle cx="500.3" cy="529.6" r="0.9"/><circle cx="435.7" cy="580.3" r="0.9"/><circle cx="489.9" cy="532.5" r="0.9"/><circle cx="456.6" cy="575.6" r="0.9"/><circle cx="483.8" cy="539.5" r="0.9"/><circle cx="514.4" cy="525.0" r="0.9"/><circle cx="478.3" cy="540.6" r="0.9"/><circle cx="467.5" cy="553.5" r="0.9"/><circle cx="496.9" cy="527.6" r="0.9"/></g>
<polyline points="525.8,522.3 538.0,521.8 550.3,522.7" fill="none" stroke="#8a8a8a" stroke-width="2.99" stroke-linecap="round" stroke-linejoin="round"/>
<polyline points="372.7,601.3 383.2,596.0 395.9,591.5 400.0,590.5 410.6,584.3 421.1,580.8 435.2,574.6 449.3,572.0 459.9,570.2 470.4,571.1 479.2,574.6 486.3,576.4" fill="none" stroke="#6a48b0" stroke-width="4.6" stroke-linecap="round" stroke-linejoin="round"/>
<g fill="#6a48b0"><circle cx="473.1" cy="582.6" r="1"/><circle cx="471.2" cy="579.4" r="1"/><circle cx="473.9" cy="580.0" r="1"/><circle cx="473.7" cy="581.3" r="1"/><circle cx="477.2" cy="584.4" r="1"/></g>
<polyline points="378.7,600.9 390.0,600.0 404.0,597.2 414.1,592.3 428.2,587.9 442.3,583.5 452.8,579.9 461.6,575.5 470.4,572.0 481.0,570.2 500.0,571.1" fill="none" stroke="#3d7a55" stroke-width="4.14" stroke-linecap="round" stroke-linejoin="round"/>
<polyline points="375.6,591.9 387.5,589.7 400.0,583.5 414.1,578.2 428.2,574.6 442.3,571.1 451.1,567.6 458.1,563.2 466.9,562.3 473.9,565.0 479.2,568.5 486.3,574.6 491.5,579.9 497.7,585.2" fill="none" stroke="#d0202a" stroke-width="3.68" stroke-linecap="round" stroke-linejoin="round"/>
<rect x="68.5" y="26.5" width="217.0" height="131.0" fill="none" stroke="#606060" stroke-width="1"/>
<line x1="65.5" y1="157.50" x2="68.5" y2="157.50" stroke="#606060" stroke-width="1"/>
<line x1="67.0" y1="146.58" x2="68.5" y2="146.58" stroke="#606060" stroke-width="1"/>
<line x1="67.0" y1="135.67" x2="68.5" y2="135.67" stroke="#606060" stroke-width="1"/>
<line x1="67.0" y1="124.75" x2="68.5" y2="124.75" stroke="#606060" stroke-width="1"/>
<line x1="67.0" y1="113.83" x2="68.5" y2="113.83" stroke="#606060" stroke-width="1"/>
<line x1="65.5" y1="102.92" x2="68.5" y2="102.92" stroke="#606060" stroke-width="1"/>
<line x1="67.0" y1="92.00" x2="68.5" y2="92.00" stroke="#606060" stroke-width="1"/>
<line x1="67.0" y1="81.08" x2="68.5" y2="81.08" stroke="#606060" stroke-width="1"/>
<line x1="67.0" y1="70.17" x2="68.5" y2="70.17" stroke="#606060" stroke-width="1"/>
<line x1="67.0" y1="59.25" x2="68.5" y2="59.25" stroke="#606060" stroke-width="1"/>
<line x1="65.5" y1="48.33" x2="68.5" y2="48.33" stroke="#606060" stroke-width="1"/>
<line x1="67.0" y1="37.42" x2="68.5" y2="37.42" stroke="#606060" stroke-width="1"/>
<line x1="67.0" y1="26.50" x2="68.5" y2="26.50" stroke="#606060" stroke-width="1"/>
<line x1="68.50" y1="157.5" x2="68.50" y2="160.0" stroke="#606060" stroke-width="1"/>
<line x1="79.35" y1="157.5" x2="79.35" y2="159.0" stroke="#606060" stroke-width="1"/>
<line x1="90.20" y1="157.5" x2="90.20" y2="159.0" stroke="#606060" stroke-width="1"/>
<line x1="101.05" y1="157.5" x2="101.05" y2="159.0" stroke="#606060" stroke-width="1"/>
<line x1="111.90" y1="157.5" x2="111.90" y2="160.0" stroke="#606060" stroke-width="1"/>
<line x1="122.75" y1="157.5" x2="122.75" y2="159.0" stroke="#606060" stroke-width="1"/>
<line x1="133.60" y1="157.5" x2="133.60" y2="159.0" stroke="#606060" stroke-width="1"/>
<line x1="144.45" y1="157.5" x2="144.45" y2="159.0" stroke="#606060" stroke-width="1"/>
<line x1="155.30" y1="157.5" x2="155.30" y2="160.0" stroke="#606060" stroke-width="1"/>
<line x1="166.15" y1="157.5" x2="166.15" y2="159.0" stroke="#606060" stroke-width="1"/>
<line x1="177.00" y1="157.5" x2="177.00" y2="159.0" stroke="#606060" stroke-width="1"/>
<line x1="187.85" y1="157.5" x2="187.85" y2="159.0" stroke="#606060" stroke-width="1"/>
<line x1="198.70" y1="157.5" x2="198.70" y2="160.0" stroke="#606060" stroke-width="1"/>
<line x1="209.55" y1="157.5" x2="209.55" y2="159.0" stroke="#606060" stroke-width="1"/>
<line x1="220.40" y1="157.5" x2="220.40" y2="159.0" stroke="#606060" stroke-width="1"/>
<line x1="231.25" y1="157.5" x2="231.25" y2="159.0" stroke="#606060" stroke-width="1"/>
<line x1="242.10" y1="157.5" x2="242.10" y2="160.0" stroke="#606060" stroke-width="1"/>
<line x1="252.95" y1="157.5" x2="252.95" y2="159.0" stroke="#606060" stroke-width="1"/>
<line x1="263.80" y1="157.5" x2="263.80" y2="159.0" stroke="#606060" stroke-width="1"/>
<line x1="274.65" y1="157.5" x2="274.65" y2="159.0" stroke="#606060" stroke-width="1"/>
<line x1="285.50" y1="157.5" x2="285.50" y2="160.0" stroke="#606060" stroke-width="1"/>
<rect x="339.5" y="26.5" width="217.0" height="131.0" fill="none" stroke="#606060" stroke-width="1"/>
<line x1="336.5" y1="157.50" x2="339.5" y2="157.50" stroke="#606060" stroke-width="1"/>
<line x1="338.0" y1="146.58" x2="339.5" y2="146.58" stroke="#606060" stroke-width="1"/>
<line x1="338.0" y1="135.67" x2="339.5" y2="135.67" stroke="#606060" stroke-width="1"/>
<line x1="338.0" y1="124.75" x2="339.5" y2="124.75" stroke="#606060" stroke-width="1"/>
<line x1="338.0" y1="113.83" x2="339.5" y2="113.83" stroke="#606060" stroke-width="1"/>
<line x1="336.5" y1="102.92" x2="339.5" y2="102.92" stroke="#606060" stroke-width="1"/>
<line x1="338.0" y1="92.00" x2="339.5" y2="92.00" stroke="#606060" stroke-width="1"/>
<line x1="338.0" y1="81.08" x2="339.5" y2="81.08" stroke="#606060" stroke-width="1"/>
<line x1="338.0" y1="70.17" x2="339.5" y2="70.17" stroke="#606060" stroke-width="1"/>
<line x1="338.0" y1="59.25" x2="339.5" y2="59.25" stroke="#606060" stroke-width="1"/>
<line x1="336.5" y1="48.33" x2="339.5" y2="48.33" stroke="#606060" stroke-width="1"/>
<line x1="338.0" y1="37.42" x2="339.5" y2="37.42" stroke="#606060" stroke-width="1"/>
<line x1="338.0" y1="26.50" x2="339.5" y2="26.50" stroke="#606060" stroke-width="1"/>
<line x1="339.50" y1="157.5" x2="339.50" y2="160.0" stroke="#606060" stroke-width="1"/>
<line x1="357.58" y1="157.5" x2="357.58" y2="159.0" stroke="#606060" stroke-width="1"/>
<line x1="375.67" y1="157.5" x2="375.67" y2="159.0" stroke="#606060" stroke-width="1"/>
<line x1="393.75" y1="157.5" x2="393.75" y2="159.0" stroke="#606060" stroke-width="1"/>
<line x1="411.83" y1="157.5" x2="411.83" y2="160.0" stroke="#606060" stroke-width="1"/>
<line x1="429.92" y1="157.5" x2="429.92" y2="159.0" stroke="#606060" stroke-width="1"/>
<line x1="448.00" y1="157.5" x2="448.00" y2="159.0" stroke="#606060" stroke-width="1"/>
<line x1="466.08" y1="157.5" x2="466.08" y2="159.0" stroke="#606060" stroke-width="1"/>
<line x1="484.17" y1="157.5" x2="484.17" y2="160.0" stroke="#606060" stroke-width="1"/>
<line x1="502.25" y1="157.5" x2="502.25" y2="159.0" stroke="#606060" stroke-width="1"/>
<line x1="520.33" y1="157.5" x2="520.33" y2="159.0" stroke="#606060" stroke-width="1"/>
<line x1="538.42" y1="157.5" x2="538.42" y2="159.0" stroke="#606060" stroke-width="1"/>
<line x1="556.50" y1="157.5" x2="556.50" y2="160.0" stroke="#606060" stroke-width="1"/>
<rect x="68.5" y="184.5" width="217.0" height="131.0" fill="none" stroke="#606060" stroke-width="1"/>
<line x1="65.5" y1="315.50" x2="68.5" y2="315.50" stroke="#606060" stroke-width="1"/>
<line x1="67.0" y1="306.77" x2="68.5" y2="306.77" stroke="#606060" stroke-width="1"/>
<line x1="67.0" y1="298.03" x2="68.5" y2="298.03" stroke="#606060" stroke-width="1"/>
<line x1="67.0" y1="289.30" x2="68.5" y2="289.30" stroke="#606060" stroke-width="1"/>
<line x1="67.0" y1="280.57" x2="68.5" y2="280.57" stroke="#606060" stroke-width="1"/>
<line x1="65.5" y1="271.83" x2="68.5" y2="271.83" stroke="#606060" stroke-width="1"/>
<line x1="67.0" y1="263.10" x2="68.5" y2="263.10" stroke="#606060" stroke-width="1"/>
<line x1="67.0" y1="254.37" x2="68.5" y2="254.37" stroke="#606060" stroke-width="1"/>
<line x1="67.0" y1="245.63" x2="68.5" y2="245.63" stroke="#606060" stroke-width="1"/>
<line x1="67.0" y1="236.90" x2="68.5" y2="236.90" stroke="#606060" stroke-width="1"/>
<line x1="65.5" y1="228.17" x2="68.5" y2="228.17" stroke="#606060" stroke-width="1"/>
<line x1="67.0" y1="219.43" x2="68.5" y2="219.43" stroke="#606060" stroke-width="1"/>
<line x1="67.0" y1="210.70" x2="68.5" y2="210.70" stroke="#606060" stroke-width="1"/>
<line x1="67.0" y1="201.97" x2="68.5" y2="201.97" stroke="#606060" stroke-width="1"/>
<line x1="67.0" y1="193.23" x2="68.5" y2="193.23" stroke="#606060" stroke-width="1"/>
<line x1="65.5" y1="184.50" x2="68.5" y2="184.50" stroke="#606060" stroke-width="1"/>
<line x1="68.50" y1="315.5" x2="68.50" y2="318.0" stroke="#606060" stroke-width="1"/>
<line x1="79.35" y1="315.5" x2="79.35" y2="317.0" stroke="#606060" stroke-width="1"/>
<line x1="90.20" y1="315.5" x2="90.20" y2="317.0" stroke="#606060" stroke-width="1"/>
<line x1="101.05" y1="315.5" x2="101.05" y2="317.0" stroke="#606060" stroke-width="1"/>
<line x1="111.90" y1="315.5" x2="111.90" y2="318.0" stroke="#606060" stroke-width="1"/>
<line x1="122.75" y1="315.5" x2="122.75" y2="317.0" stroke="#606060" stroke-width="1"/>
<line x1="133.60" y1="315.5" x2="133.60" y2="317.0" stroke="#606060" stroke-width="1"/>
<line x1="144.45" y1="315.5" x2="144.45" y2="317.0" stroke="#606060" stroke-width="1"/>
<line x1="155.30" y1="315.5" x2="155.30" y2="318.0" stroke="#606060" stroke-width="1"/>
<line x1="166.15" y1="315.5" x2="166.15" y2="317.0" stroke="#606060" stroke-width="1"/>
<line x1="177.00" y1="315.5" x2="177.00" y2="317.0" stroke="#606060" stroke-width="1"/>
<line x1="187.85" y1="315.5" x2="187.85" y2="317.0" stroke="#606060" stroke-width="1"/>
<line x1="198.70" y1="315.5" x2="198.70" y2="318.0" stroke="#606060" stroke-width="1"/>
<line x1="209.55" y1="315.5" x2="209.55" y2="317.0" stroke="#606060" stroke-width="1"/>
<line x1="220.40" y1="315.5" x2="220.40" y2="317.0" stroke="#606060" stroke-width="1"/>
<line x1="231.25" y1="315.5" x2="231.25" y2="317.0" stroke="#606060" stroke-width="1"/>
<line x1="242.10" y1="315.5" x2="242.10" y2="318.0" stroke="#606060" stroke-width="1"/>
<line x1="252.95" y1="315.5" x2="252.95" y2="317.0" stroke="#606060" stroke-width="1"/>
<line x1="263.80" y1="315.5" x2="263.80" y2="317.0" stroke="#606060" stroke-width="1"/>
<line x1="274.65" y1="315.5" x2="274.65" y2="317.0" stroke="#606060" stroke-width="1"/>
<line x1="285.50" y1="315.5" x2="285.50" y2="318.0" stroke="#606060" stroke-width="1"/>
<rect x="339.5" y="184.5" width="217.0" height="131.0" fill="none" stroke="#606060" stroke-width="1"/>
<line x1="336.5" y1="315.50" x2="339.5" y2="315.50" stroke="#606060" stroke-width="1"/>
<line x1="338.0" y1="306.77" x2="339.5" y2="306.77" stroke="#606060" stroke-width="1"/>
<line x1="338.0" y1="298.03" x2="339.5" y2="298.03" stroke="#606060" stroke-width="1"/>
<line x1="338.0" y1="289.30" x2="339.5" y2="289.30" stroke="#606060" stroke-width="1"/>
<line x1="338.0" y1="280.57" x2="339.5" y2="280.57" stroke="#606060" stroke-width="1"/>
<line x1="336.5" y1="271.83" x2="339.5" y2="271.83" stroke="#606060" stroke-width="1"/>
<line x1="338.0" y1="263.10" x2="339.5" y2="263.10" stroke="#606060" stroke-width="1"/>
<line x1="338.0" y1="254.37" x2="339.5" y2="254.37" stroke="#606060" stroke-width="1"/>
<line x1="338.0" y1="245.63" x2="339.5" y2="245.63" stroke="#606060" stroke-width="1"/>
<line x1="338.0" y1="236.90" x2="339.5" y2="236.90" stroke="#606060" stroke-width="1"/>
<line x1="336.5" y1="228.17" x2="339.5" y2="228.17" stroke="#606060" stroke-width="1"/>
<line x1="338.0" y1="219.43" x2="339.5" y2="219.43" stroke="#606060" stroke-width="1"/>
<line x1="338.0" y1="210.70" x2="339.5" y2="210.70" stroke="#606060" stroke-width="1"/>
<line x1="338.0" y1="201.97" x2="339.5" y2="201.97" stroke="#606060" stroke-width="1"/>
<line x1="338.0" y1="193.23" x2="339.5" y2="193.23" stroke="#606060" stroke-width="1"/>
<line x1="336.5" y1="184.50" x2="339.5" y2="184.50" stroke="#606060" stroke-width="1"/>
<line x1="339.50" y1="315.5" x2="339.50" y2="318.0" stroke="#606060" stroke-width="1"/>
<line x1="357.58" y1="315.5" x2="357.58" y2="317.0" stroke="#606060" stroke-width="1"/>
<line x1="375.67" y1="315.5" x2="375.67" y2="317.0" stroke="#606060" stroke-width="1"/>
<line x1="393.75" y1="315.5" x2="393.75" y2="317.0" stroke="#606060" stroke-width="1"/>
<line x1="411.83" y1="315.5" x2="411.83" y2="318.0" stroke="#606060" stroke-width="1"/>
<line x1="429.92" y1="315.5" x2="429.92" y2="317.0" stroke="#606060" stroke-width="1"/>
<line x1="448.00" y1="315.5" x2="448.00" y2="317.0" stroke="#606060" stroke-width="1"/>
<line x1="466.08" y1="315.5" x2="466.08" y2="317.0" stroke="#606060" stroke-width="1"/>
<line x1="484.17" y1="315.5" x2="484.17" y2="318.0" stroke="#606060" stroke-width="1"/>
<line x1="502.25" y1="315.5" x2="502.25" y2="317.0" stroke="#606060" stroke-width="1"/>
<line x1="520.33" y1="315.5" x2="520.33" y2="317.0" stroke="#606060" stroke-width="1"/>
<line x1="538.42" y1="315.5" x2="538.42" y2="317.0" stroke="#606060" stroke-width="1"/>
<line x1="556.50" y1="315.5" x2="556.50" y2="318.0" stroke="#606060" stroke-width="1"/>
<rect x="68.5" y="341.5" width="217.0" height="131.0" fill="none" stroke="#606060" stroke-width="1"/>
<line x1="65.5" y1="472.50" x2="68.5" y2="472.50" stroke="#606060" stroke-width="1"/>
<line x1="67.0" y1="462.02" x2="68.5" y2="462.02" stroke="#606060" stroke-width="1"/>
<line x1="67.0" y1="451.54" x2="68.5" y2="451.54" stroke="#606060" stroke-width="1"/>
<line x1="67.0" y1="441.06" x2="68.5" y2="441.06" stroke="#606060" stroke-width="1"/>
<line x1="67.0" y1="430.58" x2="68.5" y2="430.58" stroke="#606060" stroke-width="1"/>
<line x1="65.5" y1="420.10" x2="68.5" y2="420.10" stroke="#606060" stroke-width="1"/>
<line x1="67.0" y1="409.62" x2="68.5" y2="409.62" stroke="#606060" stroke-width="1"/>
<line x1="67.0" y1="399.14" x2="68.5" y2="399.14" stroke="#606060" stroke-width="1"/>
<line x1="67.0" y1="388.66" x2="68.5" y2="388.66" stroke="#606060" stroke-width="1"/>
<line x1="67.0" y1="378.18" x2="68.5" y2="378.18" stroke="#606060" stroke-width="1"/>
<line x1="65.5" y1="367.70" x2="68.5" y2="367.70" stroke="#606060" stroke-width="1"/>
<line x1="67.0" y1="357.22" x2="68.5" y2="357.22" stroke="#606060" stroke-width="1"/>
<line x1="67.0" y1="346.74" x2="68.5" y2="346.74" stroke="#606060" stroke-width="1"/>
<line x1="68.50" y1="472.5" x2="68.50" y2="475.0" stroke="#606060" stroke-width="1"/>
<line x1="79.35" y1="472.5" x2="79.35" y2="474.0" stroke="#606060" stroke-width="1"/>
<line x1="90.20" y1="472.5" x2="90.20" y2="474.0" stroke="#606060" stroke-width="1"/>
<line x1="101.05" y1="472.5" x2="101.05" y2="474.0" stroke="#606060" stroke-width="1"/>
<line x1="111.90" y1="472.5" x2="111.90" y2="475.0" stroke="#606060" stroke-width="1"/>
<line x1="122.75" y1="472.5" x2="122.75" y2="474.0" stroke="#606060" stroke-width="1"/>
<line x1="133.60" y1="472.5" x2="133.60" y2="474.0" stroke="#606060" stroke-width="1"/>
<line x1="144.45" y1="472.5" x2="144.45" y2="474.0" stroke="#606060" stroke-width="1"/>
<line x1="155.30" y1="472.5" x2="155.30" y2="475.0" stroke="#606060" stroke-width="1"/>
<line x1="166.15" y1="472.5" x2="166.15" y2="474.0" stroke="#606060" stroke-width="1"/>
<line x1="177.00" y1="472.5" x2="177.00" y2="474.0" stroke="#606060" stroke-width="1"/>
<line x1="187.85" y1="472.5" x2="187.85" y2="474.0" stroke="#606060" stroke-width="1"/>
<line x1="198.70" y1="472.5" x2="198.70" y2="475.0" stroke="#606060" stroke-width="1"/>
<line x1="209.55" y1="472.5" x2="209.55" y2="474.0" stroke="#606060" stroke-width="1"/>
<line x1="220.40" y1="472.5" x2="220.40" y2="474.0" stroke="#606060" stroke-width="1"/>
<line x1="231.25" y1="472.5" x2="231.25" y2="474.0" stroke="#606060" stroke-width="1"/>
<line x1="242.10" y1="472.5" x2="242.10" y2="475.0" stroke="#606060" stroke-width="1"/>
<line x1="252.95" y1="472.5" x2="252.95" y2="474.0" stroke="#606060" stroke-width="1"/>
<line x1="263.80" y1="472.5" x2="263.80" y2="474.0" stroke="#606060" stroke-width="1"/>
<line x1="274.65" y1="472.5" x2="274.65" y2="474.0" stroke="#606060" stroke-width="1"/>
<line x1="285.50" y1="472.5" x2="285.50" y2="475.0" stroke="#606060" stroke-width="1"/>
<rect x="339.5" y="341.5" width="217.0" height="131.0" fill="none" stroke="#606060" stroke-width="1"/>
<line x1="336.5" y1="472.50" x2="339.5" y2="472.50" stroke="#606060" stroke-width="1"/>
<line x1="338.0" y1="462.02" x2="339.5" y2="462.02" stroke="#606060" stroke-width="1"/>
<line x1="338.0" y1="451.54" x2="339.5" y2="451.54" stroke="#606060" stroke-width="1"/>
<line x1="338.0" y1="441.06" x2="339.5" y2="441.06" stroke="#606060" stroke-width="1"/>
<line x1="338.0" y1="430.58" x2="339.5" y2="430.58" stroke="#606060" stroke-width="1"/>
<line x1="336.5" y1="420.10" x2="339.5" y2="420.10" stroke="#606060" stroke-width="1"/>
<line x1="338.0" y1="409.62" x2="339.5" y2="409.62" stroke="#606060" stroke-width="1"/>
<line x1="338.0" y1="399.14" x2="339.5" y2="399.14" stroke="#606060" stroke-width="1"/>
<line x1="338.0" y1="388.66" x2="339.5" y2="388.66" stroke="#606060" stroke-width="1"/>
<line x1="338.0" y1="378.18" x2="339.5" y2="378.18" stroke="#606060" stroke-width="1"/>
<line x1="336.5" y1="367.70" x2="339.5" y2="367.70" stroke="#606060" stroke-width="1"/>
<line x1="338.0" y1="357.22" x2="339.5" y2="357.22" stroke="#606060" stroke-width="1"/>
<line x1="338.0" y1="346.74" x2="339.5" y2="346.74" stroke="#606060" stroke-width="1"/>
<line x1="339.50" y1="472.5" x2="339.50" y2="475.0" stroke="#606060" stroke-width="1"/>
<line x1="357.58" y1="472.5" x2="357.58" y2="474.0" stroke="#606060" stroke-width="1"/>
<line x1="375.67" y1="472.5" x2="375.67" y2="474.0" stroke="#606060" stroke-width="1"/>
<line x1="393.75" y1="472.5" x2="393.75" y2="474.0" stroke="#606060" stroke-width="1"/>
<line x1="411.83" y1="472.5" x2="411.83" y2="475.0" stroke="#606060" stroke-width="1"/>
<line x1="429.92" y1="472.5" x2="429.92" y2="474.0" stroke="#606060" stroke-width="1"/>
<line x1="448.00" y1="472.5" x2="448.00" y2="474.0" stroke="#606060" stroke-width="1"/>
<line x1="466.08" y1="472.5" x2="466.08" y2="474.0" stroke="#606060" stroke-width="1"/>
<line x1="484.17" y1="472.5" x2="484.17" y2="475.0" stroke="#606060" stroke-width="1"/>
<line x1="502.25" y1="472.5" x2="502.25" y2="474.0" stroke="#606060" stroke-width="1"/>
<line x1="520.33" y1="472.5" x2="520.33" y2="474.0" stroke="#606060" stroke-width="1"/>
<line x1="538.42" y1="472.5" x2="538.42" y2="474.0" stroke="#606060" stroke-width="1"/>
<line x1="556.50" y1="472.5" x2="556.50" y2="475.0" stroke="#606060" stroke-width="1"/>
<rect x="68.5" y="499.5" width="217.0" height="131.0" fill="none" stroke="#606060" stroke-width="1"/>
<line x1="65.5" y1="630.50" x2="68.5" y2="630.50" stroke="#606060" stroke-width="1"/>
<line x1="67.0" y1="620.02" x2="68.5" y2="620.02" stroke="#606060" stroke-width="1"/>
<line x1="67.0" y1="609.54" x2="68.5" y2="609.54" stroke="#606060" stroke-width="1"/>
<line x1="67.0" y1="599.06" x2="68.5" y2="599.06" stroke="#606060" stroke-width="1"/>
<line x1="67.0" y1="588.58" x2="68.5" y2="588.58" stroke="#606060" stroke-width="1"/>
<line x1="65.5" y1="578.10" x2="68.5" y2="578.10" stroke="#606060" stroke-width="1"/>
<line x1="67.0" y1="567.62" x2="68.5" y2="567.62" stroke="#606060" stroke-width="1"/>
<line x1="67.0" y1="557.14" x2="68.5" y2="557.14" stroke="#606060" stroke-width="1"/>
<line x1="67.0" y1="546.66" x2="68.5" y2="546.66" stroke="#606060" stroke-width="1"/>
<line x1="67.0" y1="536.18" x2="68.5" y2="536.18" stroke="#606060" stroke-width="1"/>
<line x1="65.5" y1="525.70" x2="68.5" y2="525.70" stroke="#606060" stroke-width="1"/>
<line x1="67.0" y1="515.22" x2="68.5" y2="515.22" stroke="#606060" stroke-width="1"/>
<line x1="67.0" y1="504.74" x2="68.5" y2="504.74" stroke="#606060" stroke-width="1"/>
<line x1="68.50" y1="630.5" x2="68.50" y2="633.0" stroke="#606060" stroke-width="1"/>
<line x1="79.35" y1="630.5" x2="79.35" y2="632.0" stroke="#606060" stroke-width="1"/>
<line x1="90.20" y1="630.5" x2="90.20" y2="632.0" stroke="#606060" stroke-width="1"/>
<line x1="101.05" y1="630.5" x2="101.05" y2="632.0" stroke="#606060" stroke-width="1"/>
<line x1="111.90" y1="630.5" x2="111.90" y2="633.0" stroke="#606060" stroke-width="1"/>
<line x1="122.75" y1="630.5" x2="122.75" y2="632.0" stroke="#606060" stroke-width="1"/>
<line x1="133.60" y1="630.5" x2="133.60" y2="632.0" stroke="#606060" stroke-width="1"/>
<line x1="144.45" y1="630.5" x2="144.45" y2="632.0" stroke="#606060" stroke-width="1"/>
<line x1="155.30" y1="630.5" x2="155.30" y2="633.0" stroke="#606060" stroke-width="1"/>
<line x1="166.15" y1="630.5" x2="166.15" y2="632.0" stroke="#606060" stroke-width="1"/>
<line x1="177.00" y1="630.5" x2="177.00" y2="632.0" stroke="#606060" stroke-width="1"/>
<line x1="187.85" y1="630.5" x2="187.85" y2="632.0" stroke="#606060" stroke-width="1"/>
<line x1="198.70" y1="630.5" x2="198.70" y2="633.0" stroke="#606060" stroke-width="1"/>
<line x1="209.55" y1="630.5" x2="209.55" y2="632.0" stroke="#606060" stroke-width="1"/>
<line x1="220.40" y1="630.5" x2="220.40" y2="632.0" stroke="#606060" stroke-width="1"/>
<line x1="231.25" y1="630.5" x2="231.25" y2="632.0" stroke="#606060" stroke-width="1"/>
<line x1="242.10" y1="630.5" x2="242.10" y2="633.0" stroke="#606060" stroke-width="1"/>
<line x1="252.95" y1="630.5" x2="252.95" y2="632.0" stroke="#606060" stroke-width="1"/>
<line x1="263.80" y1="630.5" x2="263.80" y2="632.0" stroke="#606060" stroke-width="1"/>
<line x1="274.65" y1="630.5" x2="274.65" y2="632.0" stroke="#606060" stroke-width="1"/>
<line x1="285.50" y1="630.5" x2="285.50" y2="633.0" stroke="#606060" stroke-width="1"/>
<rect x="339.5" y="499.5" width="217.0" height="131.0" fill="none" stroke="#606060" stroke-width="1"/>
<line x1="336.5" y1="630.50" x2="339.5" y2="630.50" stroke="#606060" stroke-width="1"/>
<line x1="338.0" y1="620.02" x2="339.5" y2="620.02" stroke="#606060" stroke-width="1"/>
<line x1="338.0" y1="609.54" x2="339.5" y2="609.54" stroke="#606060" stroke-width="1"/>
<line x1="338.0" y1="599.06" x2="339.5" y2="599.06" stroke="#606060" stroke-width="1"/>
<line x1="338.0" y1="588.58" x2="339.5" y2="588.58" stroke="#606060" stroke-width="1"/>
<line x1="336.5" y1="578.10" x2="339.5" y2="578.10" stroke="#606060" stroke-width="1"/>
<line x1="338.0" y1="567.62" x2="339.5" y2="567.62" stroke="#606060" stroke-width="1"/>
<line x1="338.0" y1="557.14" x2="339.5" y2="557.14" stroke="#606060" stroke-width="1"/>
<line x1="338.0" y1="546.66" x2="339.5" y2="546.66" stroke="#606060" stroke-width="1"/>
<line x1="338.0" y1="536.18" x2="339.5" y2="536.18" stroke="#606060" stroke-width="1"/>
<line x1="336.5" y1="525.70" x2="339.5" y2="525.70" stroke="#606060" stroke-width="1"/>
<line x1="338.0" y1="515.22" x2="339.5" y2="515.22" stroke="#606060" stroke-width="1"/>
<line x1="338.0" y1="504.74" x2="339.5" y2="504.74" stroke="#606060" stroke-width="1"/>
<line x1="339.50" y1="630.5" x2="339.50" y2="633.0" stroke="#606060" stroke-width="1"/>
<line x1="357.58" y1="630.5" x2="357.58" y2="632.0" stroke="#606060" stroke-width="1"/>
<line x1="375.67" y1="630.5" x2="375.67" y2="632.0" stroke="#606060" stroke-width="1"/>
<line x1="393.75" y1="630.5" x2="393.75" y2="632.0" stroke="#606060" stroke-width="1"/>
<line x1="411.83" y1="630.5" x2="411.83" y2="633.0" stroke="#606060" stroke-width="1"/>
<line x1="429.92" y1="630.5" x2="429.92" y2="632.0" stroke="#606060" stroke-width="1"/>
<line x1="448.00" y1="630.5" x2="448.00" y2="632.0" stroke="#606060" stroke-width="1"/>
<line x1="466.08" y1="630.5" x2="466.08" y2="632.0" stroke="#606060" stroke-width="1"/>
<line x1="484.17" y1="630.5" x2="484.17" y2="633.0" stroke="#606060" stroke-width="1"/>
<line x1="502.25" y1="630.5" x2="502.25" y2="632.0" stroke="#606060" stroke-width="1"/>
<line x1="520.33" y1="630.5" x2="520.33" y2="632.0" stroke="#606060" stroke-width="1"/>
<line x1="538.42" y1="630.5" x2="538.42" y2="632.0" stroke="#606060" stroke-width="1"/>
<line x1="556.50" y1="630.5" x2="556.50" y2="633.0" stroke="#606060" stroke-width="1"/>
<text stroke="#000" stroke-width="0.25" x="177.0" y="22.0" font-size="17.2" text-anchor="middle">AUG outer target</text>
<text stroke="#d0202a" stroke-width="0.25" x="90.5" y="39.1" font-size="11" word-spacing="0.7" fill="#d0202a"># 34105 0.6 MA (× 3)</text>
<text stroke="#6a48b0" stroke-width="0.25" x="90.5" y="52.5" font-size="11" word-spacing="0.7" fill="#6a48b0"># 34102 0.8 MA (× 1.5)</text>
<text stroke="#3d7a55" stroke-width="0.25" x="90.5" y="65.9" font-size="11" word-spacing="0.7" fill="#3d7a55"># 34106 1 MA</text>
<text stroke="#000" stroke-width="0.25" x="281.3" y="140.5" font-size="15" text-anchor="end">(a)</text>
<text stroke="#000" stroke-width="0.25" x="64.2" y="162.40" font-size="14" text-anchor="end">0.0</text>
<text stroke="#000" stroke-width="0.25" x="64.2" y="107.82" font-size="14" text-anchor="end">0.5</text>
<text stroke="#000" stroke-width="0.25" x="64.2" y="53.23" font-size="14" text-anchor="end">1.0</text>
<text stroke="#000" stroke-width="0.25" transform="translate(37.2,92.0) rotate(-90) scale(1.08,0.84)" x="0" y="0" font-size="15" text-anchor="middle">[10<tspan dy="-5.5" font-size="12">23</tspan><tspan dy="5.5">ion/s]</tspan></text>
<text stroke="#000" stroke-width="0.25" x="448.0" y="22.0" font-size="17.2" text-anchor="middle">AUG Outer target</text>
<text stroke="#d0202a" stroke-width="0.25" x="361.5" y="39.1" font-size="11" word-spacing="0.7" fill="#d0202a"># 34105 0.6 MA (× 3)</text>
<text stroke="#6a48b0" stroke-width="0.25" x="361.5" y="52.5" font-size="11" word-spacing="0.7" fill="#6a48b0"># 34102 0.8 MA (× 1.5)</text>
<text stroke="#3d7a55" stroke-width="0.25" x="361.5" y="65.9" font-size="11" word-spacing="0.7" fill="#3d7a55"># 34106 1 MA</text>
<text stroke="#000" stroke-width="0.25" x="552.3" y="140.5" font-size="15" text-anchor="end">(b)</text>
<text stroke="#000" stroke-width="0.25" x="177.0" y="180.0" font-size="17.2" text-anchor="middle">AUG inner target</text>
<text stroke="#d0202a" stroke-width="0.25" x="90.5" y="197.1" font-size="11" word-spacing="0.7" fill="#d0202a"># 34105 0.6 MA (× 5)</text>
<text stroke="#6a48b0" stroke-width="0.25" x="90.5" y="210.5" font-size="11" word-spacing="0.7" fill="#6a48b0"># 34102 0.8 MA (× 1.5)</text>
<text stroke="#3d7a55" stroke-width="0.25" x="90.5" y="223.9" font-size="11" word-spacing="0.7" fill="#3d7a55"># 34106 1 MA</text>
<text stroke="#000" stroke-width="0.25" x="281.3" y="298.5" font-size="15" text-anchor="end">(c)</text>
<text stroke="#000" stroke-width="0.25" x="64.2" y="320.40" font-size="14" text-anchor="end">0.00</text>
<text stroke="#000" stroke-width="0.25" x="64.2" y="276.73" font-size="14" text-anchor="end">0.05</text>
<text stroke="#000" stroke-width="0.25" x="64.2" y="233.07" font-size="14" text-anchor="end">0.10</text>
<text stroke="#000" stroke-width="0.25" x="64.2" y="189.40" font-size="14" text-anchor="end">0.15</text>
<text stroke="#000" stroke-width="0.25" transform="translate(29.7,250.0) rotate(-90) scale(1.08,0.84)" x="0" y="0" font-size="15" text-anchor="middle">[10<tspan dy="-5.5" font-size="12">23</tspan><tspan dy="5.5">ion/s]</tspan></text>
<text stroke="#000" stroke-width="0.25" x="448.0" y="180.0" font-size="17.2" text-anchor="middle">AUG inner target</text>
<text stroke="#d0202a" stroke-width="0.25" x="361.5" y="197.1" font-size="11" word-spacing="0.7" fill="#d0202a"># 34105 0.6 MA (× 5)</text>
<text stroke="#6a48b0" stroke-width="0.25" x="361.5" y="210.5" font-size="11" word-spacing="0.7" fill="#6a48b0"># 34102 0.8 MA (× 1.5)</text>
<text stroke="#3d7a55" stroke-width="0.25" x="361.5" y="223.9" font-size="11" word-spacing="0.7" fill="#3d7a55"># 34106 1 MA</text>
<text stroke="#000" stroke-width="0.25" x="552.3" y="298.5" font-size="15" text-anchor="end">(d)</text>
<text stroke="#000" stroke-width="0.25" x="177.0" y="337.0" font-size="17.2" text-anchor="middle">TCV outer target</text>
<text stroke="#d0202a" stroke-width="0.25" x="90.5" y="354.1" font-size="11" word-spacing="0.7" fill="#d0202a"># 57437 0.19 MA (× 3)</text>
<text stroke="#6a48b0" stroke-width="0.25" x="90.5" y="367.5" font-size="11" word-spacing="0.7" fill="#6a48b0"># 57425 0.25 MA (× 1.5)</text>
<text stroke="#3d7a55" stroke-width="0.25" x="90.5" y="380.9" font-size="11" word-spacing="0.7" fill="#3d7a55"># 57497 0.33 MA</text>
<text stroke="#5c5c5c" stroke-width="0.25" x="90.5" y="394.3" font-size="11" word-spacing="0.7" fill="#5c5c5c"># 52065 0.33 MA</text>
<text stroke="#000" stroke-width="0.25" x="281.3" y="455.5" font-size="15" text-anchor="end">(e)</text>
<text stroke="#000" stroke-width="0.25" x="64.2" y="477.40" font-size="14" text-anchor="end">0.0</text>
<text stroke="#000" stroke-width="0.25" x="64.2" y="425.00" font-size="14" text-anchor="end">0.1</text>
<text stroke="#000" stroke-width="0.25" x="64.2" y="372.60" font-size="14" text-anchor="end">0.2</text>
<text stroke="#000" stroke-width="0.25" transform="translate(37.5,407.0) rotate(-90) scale(1.08,0.84)" x="0" y="0" font-size="15" text-anchor="middle">[10<tspan dy="-5.5" font-size="12">23</tspan><tspan dy="5.5">ion/s]</tspan></text>
<text stroke="#000" stroke-width="0.25" x="448.0" y="337.0" font-size="17.2" text-anchor="middle">TCV outer target</text>
<text stroke="#d0202a" stroke-width="0.25" x="361.5" y="354.1" font-size="11" word-spacing="0.7" fill="#d0202a"># 57437 0.19 MA (× 3)</text>
<text stroke="#6a48b0" stroke-width="0.25" x="361.5" y="367.5" font-size="11" word-spacing="0.7" fill="#6a48b0"># 57425 0.25 MA (× 1.5)</text>
<text stroke="#3d7a55" stroke-width="0.25" x="361.5" y="380.9" font-size="11" word-spacing="0.7" fill="#3d7a55"># 57497 0.33 MA</text>
<text stroke="#5c5c5c" stroke-width="0.25" x="361.5" y="394.3" font-size="11" word-spacing="0.7" fill="#5c5c5c"># 52065 0.33 MA</text>
<text stroke="#000" stroke-width="0.25" x="552.3" y="455.5" font-size="15" text-anchor="end">(f)</text>
<text stroke="#000" stroke-width="0.25" x="177.0" y="495.0" font-size="17.2" text-anchor="middle">TCV inner target</text>
<text stroke="#d0202a" stroke-width="0.25" x="90.5" y="512.1" font-size="11" word-spacing="0.7" fill="#d0202a"># 57437 0.19 MA (× 2)</text>
<text stroke="#6a48b0" stroke-width="0.25" x="90.5" y="525.5" font-size="11" word-spacing="0.7" fill="#6a48b0"># 57425 0.25 MA (× 1.5)</text>
<text stroke="#3d7a55" stroke-width="0.25" x="90.5" y="538.9" font-size="11" word-spacing="0.7" fill="#3d7a55"># 57497 0.33 MA</text>
<text stroke="#5c5c5c" stroke-width="0.25" x="90.5" y="552.3" font-size="11" word-spacing="0.7" fill="#5c5c5c"># 52065 0.33 MA</text>
<text stroke="#000" stroke-width="0.25" x="281.3" y="613.5" font-size="15" text-anchor="end">(g)</text>
<text stroke="#000" stroke-width="0.25" x="64.2" y="635.40" font-size="14" text-anchor="end">0.0</text>
<text stroke="#000" stroke-width="0.25" x="64.2" y="583.00" font-size="14" text-anchor="end">0.1</text>
<text stroke="#000" stroke-width="0.25" x="64.2" y="530.60" font-size="14" text-anchor="end">0.2</text>
<text stroke="#000" stroke-width="0.25" transform="translate(37.5,565.0) rotate(-90) scale(1.08,0.84)" x="0" y="0" font-size="15" text-anchor="middle">[10<tspan dy="-5.5" font-size="12">23</tspan><tspan dy="5.5">ion/s]</tspan></text>
<text stroke="#000" stroke-width="0.25" x="448.0" y="495.0" font-size="17.2" text-anchor="middle">TCV inner target</text>
<text stroke="#d0202a" stroke-width="0.25" x="361.5" y="512.1" font-size="11" word-spacing="0.7" fill="#d0202a"># 57437 0.19 MA (× 2)</text>
<text stroke="#6a48b0" stroke-width="0.25" x="361.5" y="525.5" font-size="11" word-spacing="0.7" fill="#6a48b0"># 57425 0.25 MA (× 1.5)</text>
<text stroke="#3d7a55" stroke-width="0.25" x="361.5" y="538.9" font-size="11" word-spacing="0.7" fill="#3d7a55"># 57497 0.33 MA</text>
<text stroke="#5c5c5c" stroke-width="0.25" x="361.5" y="552.3" font-size="11" word-spacing="0.7" fill="#5c5c5c"># 52065 0.33 MA</text>
<text stroke="#000" stroke-width="0.25" x="552.3" y="613.5" font-size="15" text-anchor="end">(h)</text>
<text stroke="#000" stroke-width="0.25" x="68.50" y="645.3" font-size="14" text-anchor="middle">0.0</text>
<text stroke="#000" stroke-width="0.25" x="111.90" y="645.3" font-size="14" text-anchor="middle">0.2</text>
<text stroke="#000" stroke-width="0.25" x="155.30" y="645.3" font-size="14" text-anchor="middle">0.4</text>
<text stroke="#000" stroke-width="0.25" x="198.70" y="645.3" font-size="14" text-anchor="middle">0.6</text>
<text stroke="#000" stroke-width="0.25" x="242.10" y="645.3" font-size="14" text-anchor="middle">0.8</text>
<text stroke="#000" stroke-width="0.25" x="285.50" y="645.3" font-size="14" text-anchor="middle">1.0</text>
<text stroke="#000" stroke-width="0.25" x="339.50" y="645.3" font-size="14" text-anchor="middle">0.0</text>
<text stroke="#000" stroke-width="0.25" x="411.83" y="645.3" font-size="14" text-anchor="middle">0.2</text>
<text stroke="#000" stroke-width="0.25" x="484.17" y="645.3" font-size="14" text-anchor="middle">0.4</text>
<text stroke="#000" stroke-width="0.25" x="556.50" y="645.3" font-size="14" text-anchor="middle">0.6</text>
<text stroke="#000" stroke-width="0.25" x="134.0" y="664.2" font-size="15">n</text>
<text stroke="#000" stroke-width="0.25" x="142.8" y="658.9" font-size="10">e</text>
<text stroke="#000" stroke-width="0.25" x="142.8" y="667.9" font-size="10">e</text>
<text stroke="#000" stroke-width="0.25" x="149.5" y="664.2" font-size="15">[</text>
<text stroke="#000" stroke-width="0.25" x="155.3" y="664.2" font-size="15">10</text>
<text stroke="#000" stroke-width="0.25" x="173.2" y="658.8" font-size="10.3">20</text>
<text stroke="#000" stroke-width="0.25" x="186.0" y="664.2" font-size="15">m</text>
<text stroke="#000" stroke-width="0.25" x="198.8" y="658.8" font-size="10.3">−</text>
<text stroke="#000" stroke-width="0.25" x="206.0" y="658.8" font-size="10.3">3</text>
<text stroke="#000" stroke-width="0.25" x="214.3" y="664.2" font-size="15">]</text>
<text stroke="#000" stroke-width="0.25" x="430.5" y="662.7" font-size="14.5">n</text>
<text stroke="#000" stroke-width="0.25" x="438.2" y="657.2" font-size="10" font-style="italic">e</text>
<text stroke="#000" stroke-width="0.25" x="437.8" y="666.5" font-size="10" font-style="italic">e</text>
<text stroke="#000" stroke-width="0.25" x="444.4" y="662.7" font-size="14.5">/</text>
<text stroke="#000" stroke-width="0.25" x="448.8" y="662.7" font-size="14.5">n</text>
<text stroke="#000" stroke-width="0.25" x="456.8" y="664.6" font-size="10" font-style="italic">G</text>
</svg></body></html>
